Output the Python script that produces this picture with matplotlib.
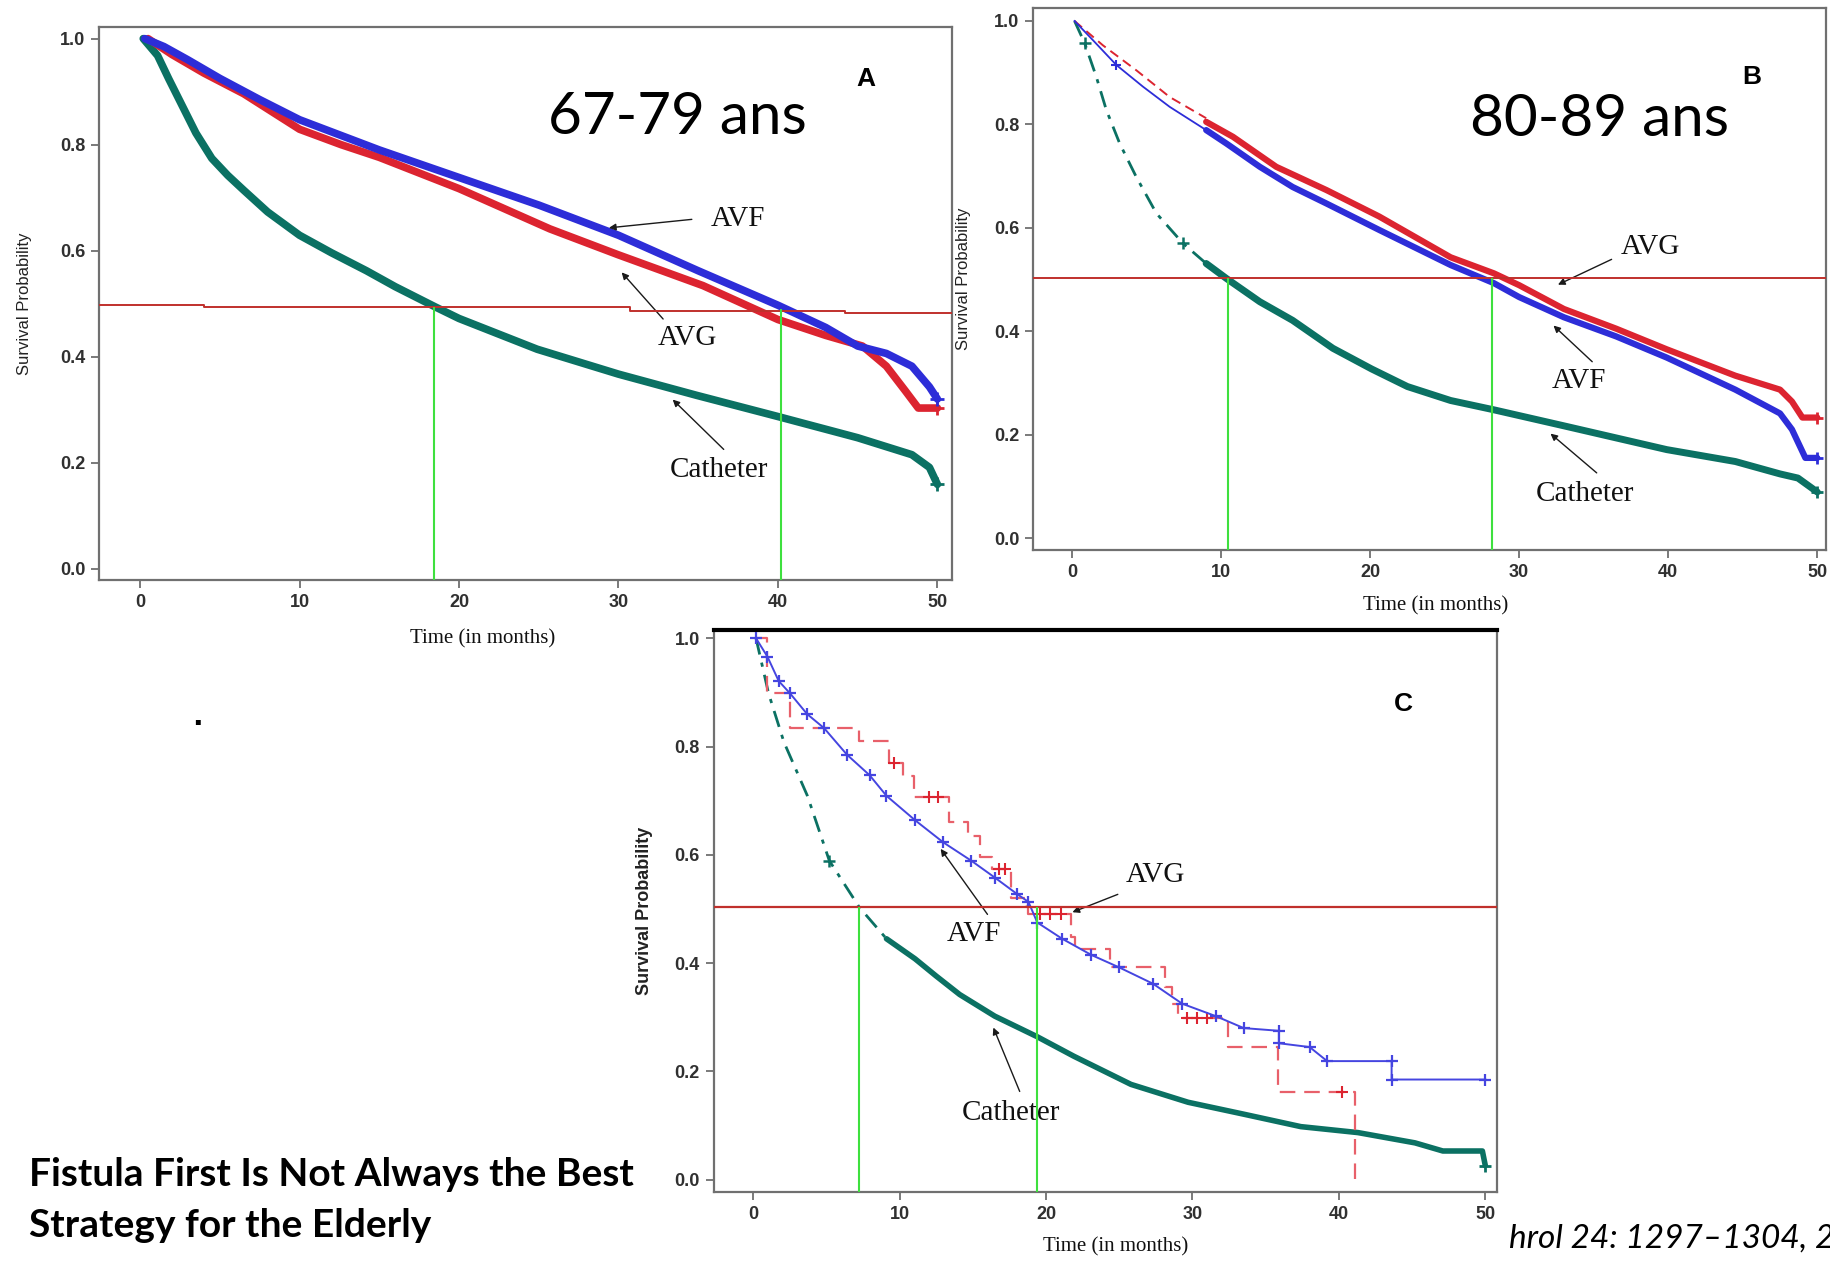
import numpy as np
import matplotlib
matplotlib.use("Agg")
import matplotlib.pyplot as plt

# ---------------- panel A : 67-79 ans ----------------
a_avf_x = [0.3, 1.5, 3, 5, 7.5, 10, 15, 20, 25, 30, 35, 40, 43, 45, 46.8, 48.4, 49.5, 50]
a_avf_y = [1.0, 0.985, 0.96, 0.925, 0.885, 0.847, 0.79, 0.738, 0.686, 0.629, 0.562, 0.497, 0.455,
           0.42, 0.406, 0.382, 0.343, 0.32]
a_avg_x = [0.5, 2, 4, 6.5, 10, 12.6, 15, 20, 25.7, 30, 35.3, 40, 43, 45.3, 46.8, 48, 48.8, 50]
a_avg_y = [1.0, 0.97, 0.935, 0.896, 0.829, 0.80, 0.776, 0.717, 0.641, 0.592, 0.534, 0.47, 0.44,
           0.42, 0.382, 0.335, 0.303, 0.303]
a_cath_x = [0.2, 1.1, 1.8, 2.6, 3.5, 4.5, 5.5, 6.5, 8, 10, 12, 14.2, 16, 18.5, 20, 24.9, 30, 34.9,
            40, 45, 48.4, 49.5, 50]
a_cath_y = [1.0, 0.968, 0.924, 0.876, 0.822, 0.774, 0.742, 0.714, 0.673, 0.629, 0.596, 0.562,
            0.532, 0.494, 0.472, 0.414, 0.367, 0.327, 0.287, 0.247, 0.215, 0.191, 0.159]
a_ref_x = [-2.6, 4.0, 30.7, 44.2, 50.9]
a_ref_y = [0.498, 0.494, 0.486, 0.482, 0.482]
a_median_x = [18.46, 40.2]
a_median_y = [0.494, 0.49]

# ---------------- panel B : 80-89 ans ----------------
b_avf_early_x = [0.17, 1.4, 2.97, 4.76, 6.55, 9.0]
b_avf_early_y = [1.0, 0.963, 0.915, 0.873, 0.834, 0.789]
b_avf_x = [9.0, 10.36, 12.6, 14.8, 17.07, 20.6, 25.4, 28.3, 30, 33, 36.5, 39.9, 44.5, 47.5, 48.3,
           49.2, 50]
b_avf_y = [0.789, 0.763, 0.718, 0.679, 0.647, 0.596, 0.528, 0.493, 0.466, 0.427, 0.39, 0.349,
           0.287, 0.241, 0.21, 0.155, 0.155]
b_avg_early_x = [0.17, 2.07, 4.3, 6.55, 9.0]
b_avg_early_y = [1.0, 0.953, 0.905, 0.853, 0.812]
b_avg_x = [9.0, 10.8, 13.7, 17.07, 20.6, 25.4, 28.3, 30, 33, 36.5, 39.9, 44.5, 47.5, 48.3, 49.0, 50]
b_avg_y = [0.805, 0.776, 0.718, 0.673, 0.622, 0.543, 0.512, 0.489, 0.443, 0.405, 0.365, 0.314,
           0.287, 0.264, 0.233, 0.233]
b_cath_early_x = [0.17, 0.85, 1.63, 2.3, 3.2, 4.3, 5.66, 7.44, 9.0]
b_cath_early_y = [1.0, 0.957, 0.892, 0.828, 0.763, 0.699, 0.628, 0.570, 0.531]
b_cath_x = [9.0, 10.36, 12.6, 14.8, 17.5, 20.1, 22.5, 25.4, 28.3, 33, 39.9, 44.5, 47.5, 48.7, 50]
b_cath_y = [0.531, 0.502, 0.457, 0.421, 0.367, 0.327, 0.293, 0.266, 0.248, 0.217, 0.171, 0.148,
            0.124, 0.116, 0.089]
b_ref_y = 0.502
b_median_x = [10.48, 28.2]

# ---------------- panel C ----------------
c_avf_x = [0.19, 0.97, 1.74, 2.52, 3.68, 4.84, 6.4, 7.95, 9.1, 11.05, 12.98, 14.9, 16.5, 18.0,
           18.8, 19.4, 21.1, 23.1, 25.0, 27.3, 29.3, 31.6, 33.5, 35.9, 35.9, 38.0, 39.2, 43.6,
           43.6, 50.0]
c_avf_y = [1.0, 0.966, 0.921, 0.898, 0.860, 0.834, 0.785, 0.747, 0.709, 0.664, 0.623, 0.589,
           0.558, 0.528, 0.513, 0.475, 0.445, 0.415, 0.392, 0.362, 0.325, 0.302, 0.280, 0.275,
           0.252, 0.245, 0.219, 0.219, 0.185, 0.185]
c_avg_t = [0.2, 0.97, 2.5, 7.2, 9.3, 10.2, 11.0, 13.4, 14.7, 15.5, 16.3, 17.6, 18.6, 18.8, 21.7,
           22.0, 24.4, 28.1, 28.6, 29.0, 32.4, 35.85, 41.1]
c_avg_s = [1.0, 0.898, 0.834, 0.811, 0.770, 0.745, 0.706, 0.66, 0.634, 0.596, 0.574, 0.521, 0.505,
           0.491, 0.449, 0.426, 0.392, 0.355, 0.325, 0.298, 0.245, 0.162, 0.0]
c_avg_censor = [9.6, 12.0, 12.6, 16.8, 17.2, 19.6, 20.3, 21.0, 29.6, 30.3, 31.0, 40.2]
c_cath_early_x = [0.19, 1.05, 2.1, 3.7, 5.2, 7.25, 9.1]
c_cath_early_y = [1.0, 0.898, 0.808, 0.709, 0.589, 0.503, 0.445]
c_cath_x = [9.1, 11.05, 12.5, 14.1, 16.5, 19.4, 21.9, 25.8, 29.7, 33.5, 37.4, 41.3, 45.2, 47.1,
            48.3, 49.8, 50.0]
c_cath_y = [0.445, 0.408, 0.376, 0.342, 0.302, 0.264, 0.228, 0.176, 0.143, 0.121, 0.098, 0.087,
            0.068, 0.053, 0.053, 0.053, 0.026]
c_ref_y = 0.503
c_median_x = [7.25, 19.38]

x_ticks = [0, 10, 20, 30, 40, 50]
y_ticks = [0.0, 0.2, 0.4, 0.6, 0.8, 1.0]

BLUE = "#2d2dd8"
RED = "#dc2430"
TEAL = "#0b7163"
REF = "#c0302c"
GREEN = "#3ee03e"
FRAME = "#707070"
SERIF = "Liberation Serif"
SANS = "Liberation Sans"


def style_axes(ax, xlim, ylim, ylabel, ylab_bold, xlab_pos):
    ax.set_xlim(*xlim)
    ax.set_ylim(*ylim)
    ax.set_xticks(x_ticks)
    ax.set_yticks(y_ticks)
    ax.set_xticklabels([str(t) for t in x_ticks])
    ax.set_yticklabels([f"{t:.1f}" for t in y_ticks])
    ax.tick_params(direction="out", length=6, width=1.3, color=FRAME, labelsize=13,
                   labelcolor="#303030", pad=4)
    for lab in ax.get_xticklabels() + ax.get_yticklabels():
        lab.set_fontfamily(SANS)
        lab.set_fontweight("bold")
    for sp in ax.spines.values():
        sp.set_color(FRAME)
        sp.set_linewidth(1.6)
    ax.text(-0.088, 0.5, ylabel, transform=ax.transAxes, rotation=90, ha="center",
            va="center", fontsize=13 if ylab_bold else 12, family=SANS,
            fontweight="bold" if ylab_bold else "normal", color="#222")
    ax.text(xlab_pos[0], xlab_pos[1], "Time (in months)", transform=ax.transAxes,
            ha="center", va="center", fontsize=15, family=SERIF, color="#111")


def arrow(ax, tail, head):
    ax.annotate("", xy=head, xytext=tail,
                arrowprops=dict(arrowstyle="-|>", color="#1a1a1a", lw=1.0,
                                mutation_scale=10, shrinkA=0, shrinkB=0))


def label(ax, x, y, s):
    ax.text(x, y, s, ha="center", va="center", fontsize=21, family=SERIF, color="#111")


def thick(ax, x, y, color, lw, ms):
    # dense censor-marked KM curve: a broad band with a cross at its last point
    ax.plot(x, y, color=color, lw=lw, solid_capstyle="round", solid_joinstyle="round",
            zorder=3)
    ax.plot(x[-1:], y[-1:], ls="none", marker="+", color=color, ms=ms, mew=2, zorder=3)


fig = plt.figure(figsize=(18.31, 12.61), dpi=100)

# ---- A ----
axA = fig.add_axes([0.0542, 0.5398, 0.4656, 0.4384])
thick(axA, a_cath_x, a_cath_y, TEAL, 5.5, 10)
thick(axA, a_avg_x, a_avg_y, RED, 5.5, 10)
thick(axA, a_avf_x, a_avf_y, BLUE, 5.5, 10)
axA.plot(a_ref_x, a_ref_y, color=REF, lw=1.4, drawstyle="steps-post", zorder=4)
axA.vlines(a_median_x, -0.022, a_median_y, color=GREEN, lw=1.5, zorder=4)
style_axes(axA, (-2.56, 50.9), (-0.022, 1.021), "Survival Probability", False, (0.45, -0.106))
label(axA, 37.5, 0.659, "AVF")
arrow(axA, (34.6, 0.659), (29.4, 0.643))
label(axA, 34.3, 0.436, "AVG")
arrow(axA, (32.8, 0.471), (30.2, 0.559))
label(axA, 36.3, 0.187, "Catheter")
arrow(axA, (36.6, 0.225), (33.4, 0.319))
axA.text(45.5, 0.923, "A", ha="center", va="center", fontsize=19, fontweight="bold", family=SANS)
axA.text(33.7, 0.852, "67-79 ans", ha="center", va="center", fontsize=42, family="Lato")

# ---- B ----
axB = fig.add_axes([0.5644, 0.5639, 0.4330, 0.4297])
axB.plot(b_cath_early_x, b_cath_early_y, color=TEAL, lw=2.0, dashes=(6, 3, 1.5, 3),
         marker="+", ms=8, mew=1.8, markevery=[1, 7], zorder=3)
axB.plot(b_avg_early_x, b_avg_early_y, color=RED, lw=1.4, dashes=(5, 3), zorder=3)
axB.plot(b_avf_early_x, b_avf_early_y, color=BLUE, lw=1.3, marker="+", ms=7, mew=1.5,
         markevery=[2], zorder=3)
thick(axB, b_cath_x, b_cath_y, TEAL, 5.0, 9)
thick(axB, b_avg_x, b_avg_y, RED, 4.5, 9)
thick(axB, b_avf_x, b_avf_y, BLUE, 4.5, 9)
axB.axhline(b_ref_y, color=REF, lw=1.4, zorder=4)
axB.vlines(b_median_x, -0.023, b_ref_y, color=GREEN, lw=1.5, zorder=4)
style_axes(axB, (-2.59, 50.6), (-0.023, 1.025), "Survival Probability", False, (0.507, -0.103))
label(axB, 38.8, 0.563, "AVG")
arrow(axB, (36.2, 0.539), (32.6, 0.49))
label(axB, 34.0, 0.303, "AVF")
arrow(axB, (34.9, 0.341), (32.3, 0.411))
label(axB, 34.4, 0.085, "Catheter")
arrow(axB, (35.2, 0.126), (32.1, 0.202))
axB.text(45.6, 0.891, "B", ha="center", va="center", fontsize=19, fontweight="bold", family=SANS)
axB.text(35.4, 0.81, "80-89 ans", ha="center", va="center", fontsize=42, family="Lato")

# ---- C ----
axC = fig.add_axes([0.3897, 0.0546, 0.4279, 0.4457])
axC.plot(c_cath_early_x, c_cath_early_y, color=TEAL, lw=2.0, dashes=(6, 3, 1.5, 3),
         marker="+", ms=8, mew=1.8, markevery=[4], zorder=3)
thick(axC, c_cath_x, c_cath_y, TEAL, 4.0, 9)
axC.plot(c_avg_t, c_avg_s, color="#e8606a", lw=1.6, dashes=(7, 4), drawstyle="steps-post",
         zorder=3)
cens_idx = np.searchsorted(c_avg_t, c_avg_censor, side="right") - 1
axC.plot(c_avg_censor, np.array(c_avg_s)[cens_idx], ls="none", marker="+", ms=8, mew=1.5,
         color=RED, zorder=3)
axC.plot(c_avf_x, c_avf_y, color="#4545e0", lw=1.4, marker="+", ms=8, mew=1.6, zorder=3)
axC.axhline(c_ref_y, color=REF, lw=1.6, zorder=4)
axC.vlines(c_median_x, -0.023, c_ref_y, color=GREEN, lw=1.5, zorder=4)
style_axes(axC, (-2.71, 50.8), (-0.023, 1.015), "Survival Probability", True, (0.513, -0.098))
axC.spines["top"].set_color("black")
axC.spines["top"].set_linewidth(3)
label(axC, 27.5, 0.562, "AVG")
arrow(axC, (24.9, 0.527), (21.8, 0.494))
label(axC, 15.1, 0.454, "AVF")
arrow(axC, (16.0, 0.49), (12.8, 0.611))
label(axC, 17.6, 0.124, "Catheter")
arrow(axC, (18.2, 0.163), (16.4, 0.281))
axC.text(44.4, 0.879, "C", ha="center", va="center", fontsize=19, fontweight="bold", family=SANS)

# ---- page text ----
fig.text(0.016, 0.0593, "Fistula First Is Not Always the Best", fontsize=28, fontweight="bold",
         family="Lato", va="baseline")
fig.text(0.016, 0.019, "Strategy for the Elderly", fontsize=28, fontweight="bold",
         family="Lato", va="baseline")
fig.text(0.824, 0.011, "hrol 24: 1297\u20131304, 2013", fontsize=24, style="italic",
         family="Lato", va="baseline")
fig.text(0.105, 0.425, ".", fontsize=20, fontweight="bold")

fig.savefig("out.png", dpi=100)
